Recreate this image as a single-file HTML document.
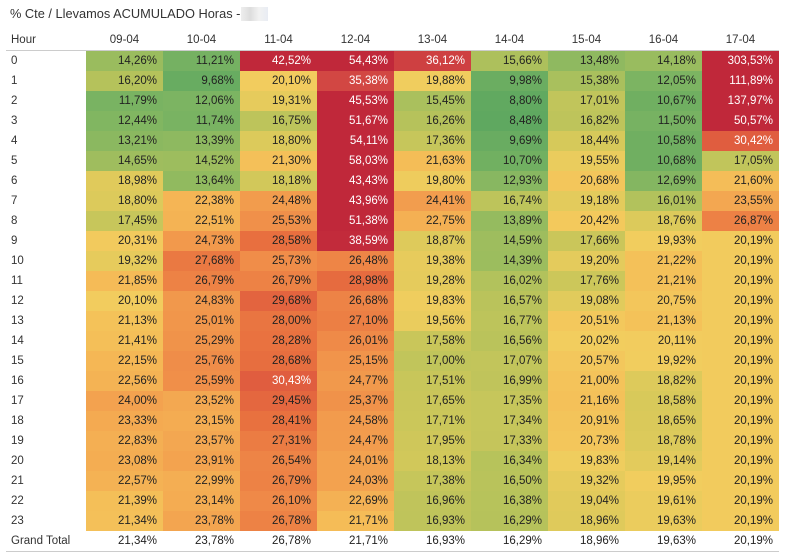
<!DOCTYPE html>
<html><head><meta charset="utf-8"><style>
body{margin:0;width:785px;height:556px;background:#fff;font-family:"Liberation Sans",sans-serif;position:relative;overflow:hidden}
#t{position:absolute;left:10px;top:6px;font-size:12.8px;color:#333}
#blur{position:absolute;left:241px;top:7px;width:27px;height:14px;background:linear-gradient(90deg,#eee,#ddd,#f2f2f2,#e8ecf3)}
.c{position:absolute;font-size:11.5px;color:#222;text-align:right;line-height:20px;height:20px;box-sizing:border-box;padding-right:6px}
.h{position:absolute;font-size:11.5px;color:#333;line-height:20px}
</style></head><body>
<div id="t">% Cte / Llevamos ACUMULADO Horas -</div><div id="blur"></div>
<div id="g"></div>
<script>
const cols=["09-04","10-04","11-04","12-04","13-04","14-04","15-04","16-04","17-04"];
const d=`14,26 11,21 42,52 54,43 36,12 15,66 13,48 14,18 303,53
16,20 9,68 20,10 35,38 19,88 9,98 15,38 12,05 111,89
11,79 12,06 19,31 45,53 15,45 8,80 17,01 10,67 137,97
12,44 11,74 16,75 51,67 16,26 8,48 16,82 11,50 50,57
13,21 13,39 18,80 54,11 17,36 9,69 18,44 10,58 30,42
14,65 14,52 21,30 58,03 21,63 10,70 19,55 10,68 17,05
18,98 13,64 18,18 43,43 19,80 12,93 20,68 12,69 21,60
18,80 22,38 24,48 43,96 24,41 16,74 19,18 16,01 23,55
17,45 22,51 25,53 51,38 22,75 13,89 20,42 18,76 26,87
20,31 24,73 28,58 38,59 18,87 14,59 17,66 19,93 20,19
19,32 27,68 25,73 26,48 19,38 14,39 19,20 21,22 20,19
21,85 26,79 26,79 28,98 19,28 16,02 17,76 21,21 20,19
20,10 24,83 29,68 26,68 19,83 16,57 19,08 20,75 20,19
21,13 25,01 28,00 27,10 19,56 16,77 20,51 21,13 20,19
21,41 25,29 28,28 26,01 17,58 16,56 20,02 20,11 20,19
22,15 25,76 28,68 25,15 17,00 17,07 20,57 19,92 20,19
22,56 25,59 30,43 24,77 17,51 16,99 21,00 18,82 20,19
24,00 23,52 29,45 25,37 17,65 17,35 21,16 18,58 20,19
23,33 23,15 28,41 24,58 17,71 17,34 20,91 18,65 20,19
22,83 23,57 27,31 24,47 17,95 17,33 20,73 18,78 20,19
23,08 23,91 26,54 24,01 18,13 16,34 19,83 19,14 20,19
22,57 22,99 26,79 24,03 17,38 16,50 19,32 19,95 20,19
21,39 23,14 26,10 22,69 16,96 16,38 19,04 19,61 20,19
21,34 23,78 26,78 21,71 16,93 16,29 18,96 19,63 20,19`.split("\n").map(r=>r.trim().split(" "));
const stops=[[8.5,[95,168,96]],[12,[123,180,98]],[14.5,[157,189,94]],[16.5,[185,195,91]],[18.5,[215,201,90]],[20,[242,205,94]],[22,[245,185,86]],[24,[243,162,79]],[26,[239,138,72]],[28.5,[232,112,63]],[30.5,[224,92,63]],[35,[212,74,68]],[39,[192,40,58]],[1000,[192,40,58]]];
function col(v){for(let i=0;i<stops.length-1;i++){const[a,ca]=stops[i],[b,cb]=stops[i+1];if(v<=b){const t=Math.max(0,(v-a)/(b-a));return`rgb(${ca.map((x,k)=>Math.round(x+(cb[k]-x)*t)).join(",")})`}}}
let h="";const X0=86,W=77,Y0=50,H=20;
h+=`<div class="h" style="left:11px;top:30px">Hour</div>`;
cols.forEach((c,i)=>h+=`<div class="h" style="left:${X0+i*W}px;width:${W}px;text-align:center;top:30px">${c}</div>`);
h+=`<div style="position:absolute;left:6px;top:${Y0}px;width:773px;height:1px;background:#ccc"></div>`;
d.forEach((r,j)=>{const y=Y0+1+j*H;h+=`<div class="h" style="left:11px;top:${y}px">${j}</div>`;
r.forEach((s,i)=>{const v=parseFloat(s.replace(",","."));h+=`<div class="c" style="left:${X0+i*W}px;top:${y}px;width:${W}px;background:${col(v)};color:${v>=30?"#fff":"#222"}">${s}%</div>`})});
const gy=Y0+1+24*H;h+=`<div class="h" style="left:11px;top:${gy}px">Grand Total</div>`;
d[23].forEach((s,i)=>h+=`<div class="c" style="left:${X0+i*W}px;top:${gy}px;width:${W}px">${s}%</div>`);
h+=`<div style="position:absolute;left:6px;top:${gy+20}px;width:773px;height:1px;background:#ccc"></div>`;
document.getElementById("g").innerHTML=h;
</script></body></html>
